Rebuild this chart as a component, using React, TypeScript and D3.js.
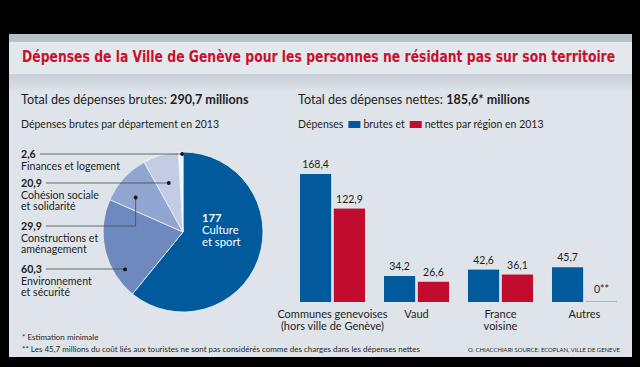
import React, { useEffect, useRef } from 'react';
import * as d3 from 'd3';

// pie: gross spending by department (millions CHF)
const deptNames = ['Culture et sport', 'Environnement et sécurité', 'Constructions et aménagement', 'Cohésion sociale et solidarité', 'Finances et logement'];
const deptValues = [177, 60.3, 29.9, 20.9, 2.6];
const deptLabels = ['177', '60,3', '29,9', '20,9', '2,6'];
const deptLines = [['Culture', 'et sport'], ['Environnement', 'et sécurité'], ['Constructions et', 'aménagement'], ['Cohésion sociale', 'et solidarité'], ['Finances et logement']];

// bars: gross vs net by region
const regions = ['Communes genevoises', 'Vaud', 'France voisine', 'Autres'];
const regionLines = [['Communes genevoises', '(hors ville de Genève)'], ['Vaud'], ['France', 'voisine'], ['Autres']];
const brutes = [168.4, 34.2, 42.6, 45.7];
const nettes = [122.9, 26.6, 36.1, 0];
const brutesLabels = ['168,4', '34,2', '42,6', '45,7'];
const nettesLabels = ['122,9', '26,6', '36,1', '0**'];

const W = 640;
const H = 367;
const FONT = "Lato, 'Open Sans', sans-serif";
const deptColors = ['#005a9c', '#6e89be', '#91a5d0', '#c2cde5', '#f5f7fb'];
const BLUE = '#005a9c';
const RED = '#c10b2f';

// label layout for the pie annotations (index in deptValues)
const annot = [
  { i: 4, y: 154, t: 0.8, r: 78 },
  { i: 3, y: 183, t: 0.5, r: 51 },
  { i: 2, y: 226, t: 0.33, r: 58.6 },
  { i: 1, y: 269, t: 0.24, r: 69 },
];

const App = () => {
  const ref = useRef<SVGSVGElement | null>(null);

  useEffect(() => {
    const svg = d3.select(ref.current);
    svg.selectAll('*').remove();

    svg.append('rect').attr('width', W).attr('height', H).attr('fill', '#000');

    const defs = svg.append('defs');
    const g1 = defs.append('linearGradient').attr('id', 'band-shade').attr('x1', 0).attr('x2', 0).attr('y1', 0).attr('y2', 1);
    g1.append('stop').attr('offset', '0%').attr('stop-color', '#c7cfd6');
    g1.append('stop').attr('offset', '100%').attr('stop-color', '#dee4e9');

    // panel
    svg.append('rect').attr('x', 9).attr('y', 34).attr('width', 623).attr('height', 323).attr('fill', '#dee4e9');
    svg.append('rect').attr('x', 9).attr('y', 34).attr('width', 623).attr('height', 8).attr('fill', '#b6c2c9');
    svg.append('rect').attr('x', 9).attr('y', 42).attr('width', 623).attr('height', 32).attr('fill', '#e3e8ec');
    svg.append('rect').attr('x', 9).attr('y', 74).attr('width', 623).attr('height', 18).attr('fill', 'url(#band-shade)');

    // title, squeezed horizontally to the panel width
    const title = svg
      .append('text')
      .attr('x', 0)
      .attr('y', 0)
      .style('font-family', "'Liberation Sans Narrow', 'DejaVu Sans Condensed', Roboto, sans-serif")
      .style('font-stretch', 'condensed')
      .style('font-weight', 700)
      .style('font-size', '15px')
      .style('fill', '#c8102e')
      .text('Dépenses de la Ville de Genève pour les personnes ne résidant pas sur son territoire');
    const tLen = (title.node() as SVGTextElement).getComputedTextLength();
    title.attr('transform', `translate(22,62) scale(${594 / tLen},1)`);

    const txt = (x: number, y: number, s: string, size: number, opts: any = {}) =>
      svg
        .append('text')
        .attr('x', x)
        .attr('y', y)
        .attr('text-anchor', opts.anchor || 'start')
        .style('font-family', FONT)
        .style('font-size', `${size}px`)
        .style('font-weight', opts.bold ? 700 : 400)
        .style('fill', opts.fill || '#1e1e1e')
        .text(s);

    // multi-line block: optional bold first line, then regular lines
    const block = (x: number, y: number, head: string | null, lines: string[], size: number, lh: number, opts: any = {}) => {
      const t = svg
        .append('text')
        .attr('x', x)
        .attr('y', y)
        .attr('text-anchor', opts.anchor || 'start')
        .style('font-family', FONT)
        .style('font-size', `${size}px`)
        .style('fill', opts.fill || '#1e1e1e');
      if (head) {
        t.append('tspan').attr('x', x).attr('y', y).style('font-weight', 700).text(head);
      }
      lines.forEach((l, k) => {
        t.append('tspan')
          .attr('x', x)
          .attr('y', y + (head ? (k + 1) * lh : k * lh))
          .text(l);
      });
      return t;
    };

    // left headings
    const h1 = txt(21, 104, 'Total des dépenses brutes: ', 12.6);
    h1.append('tspan').style('font-weight', 700).text('290,7 millions');
    txt(21, 128, 'Dépenses brutes par département en 2013', 10.5);

    // pie
    const cx = 183;
    const cy = 232;
    const radius = 80;
    const pie = d3.pie<number>().sort(null).value((d) => d);
    const arcs = pie(deptValues);
    const arc = d3.arc<d3.PieArcDatum<number>>().innerRadius(0).outerRadius(radius);
    const pg = svg.append('g').attr('transform', `translate(${cx},${cy})`);
    pg.selectAll('path')
      .data(arcs)
      .enter()
      .append('path')
      .attr('d', arc)
      .attr('fill', (d, i) => deptColors[i])
      .attr('stroke', '#eef2f7')
      .attr('stroke-width', 0.8);

    block(cx + 19, 222, deptLabels[0], deptLines[0], 11.3, 12, { fill: '#fff' });

    annot.forEach((a) => {
      const d = arcs[a.i];
      const ang = d.startAngle + a.t * (d.endAngle - d.startAngle);
      const dx = cx + a.r * Math.sin(ang);
      const dy = cy - a.r * Math.cos(ang);
      const b = block(21, a.y + 4, deptLabels[a.i], deptLines[a.i], 10.6, 11.5);
      const head = b.select('tspan').node() as SVGTSpanElement;
      const x0 = 21 + head.getComputedTextLength() + 4;
      svg
        .append('path')
        .attr('d', `M${x0},${a.y}H${dx}V${dy}`)
        .attr('fill', 'none')
        .attr('stroke', '#4a4a4a')
        .attr('stroke-width', 0.8);
      svg.append('circle').attr('cx', dx).attr('cy', dy).attr('r', 1.9).attr('fill', '#111');
    });

    // right headings + legend
    const h2 = txt(298, 104, 'Total des dépenses nettes: ', 12.6);
    h2.append('tspan').style('font-weight', 700).text('185,6* millions');
    const l0 = txt(298, 128, 'Dépenses', 10.5);
    let lx = 298 + (l0.node() as SVGTextElement).getComputedTextLength() + 5;
    svg.append('rect').attr('x', lx).attr('y', 121).attr('width', 12).attr('height', 7).attr('fill', BLUE);
    const l1 = txt(lx + 15, 128, 'brutes et', 10.5);
    lx = lx + 15 + (l1.node() as SVGTextElement).getComputedTextLength() + 5;
    svg.append('rect').attr('x', lx).attr('y', 121).attr('width', 12).attr('height', 7).attr('fill', RED);
    txt(lx + 15, 128, 'nettes par région en 2013', 10.5);

    // bars
    const baseY = 302;
    const x = d3.scaleBand().domain(regions).range([300, 617]).paddingInner(0.226).paddingOuter(0);
    const xs = d3.scaleBand().domain(['brutes', 'nettes']).range([0, x.bandwidth()]).paddingInner(0.08);
    const y = d3.scaleLinear().domain([0, d3.max(brutes) as number]).range([baseY, baseY - 128]);

    regions.forEach((r, i) => {
      const gx = x(r) as number;
      const series = [
        { key: 'brutes', v: brutes[i], lab: brutesLabels[i], c: BLUE },
        { key: 'nettes', v: nettes[i], lab: nettesLabels[i], c: RED },
      ];
      series.forEach((s) => {
        const bx = gx + (xs(s.key) as number);
        if (s.v > 0) {
          svg.append('rect').attr('x', bx).attr('y', y(s.v)).attr('width', xs.bandwidth()).attr('height', baseY - y(s.v)).attr('fill', s.c);
        } else {
          svg.append('rect').attr('x', bx).attr('y', baseY - 1).attr('width', xs.bandwidth()).attr('height', 1).attr('fill', '#e99a9a');
        }
        txt(bx + xs.bandwidth() / 2, y(s.v) - (s.v > 0 ? 6 : 9), s.lab, 10.5, { anchor: 'middle' });
      });
      block(gx + x.bandwidth() / 2, 318, null, regionLines[i], 11, 11.5, { anchor: 'middle' });
    });

    // footnotes
    txt(22, 340, '* Estimation minimale', 8);
    txt(22, 352, '** Les 45,7 millions du coût liés aux touristes ne sont pas considérés comme des charges dans les dépenses nettes', 8)
      .attr('textLength', 398)
      .attr('lengthAdjust', 'spacingAndGlyphs');
    txt(620, 352, 'O. CHIACCHIARI  SOURCE: ECOPLAN, VILLE DE GENEVE', 6.5, { anchor: 'end' })
      .attr('textLength', 152)
      .attr('lengthAdjust', 'spacingAndGlyphs');
  }, []);

  return (
    <div style={{ position: 'fixed', left: 0, top: 0, width: W, height: H }}>
      <svg ref={ref} width={W} height={H} style={{ display: 'block' }} />
    </div>
  );
};

export default App;
